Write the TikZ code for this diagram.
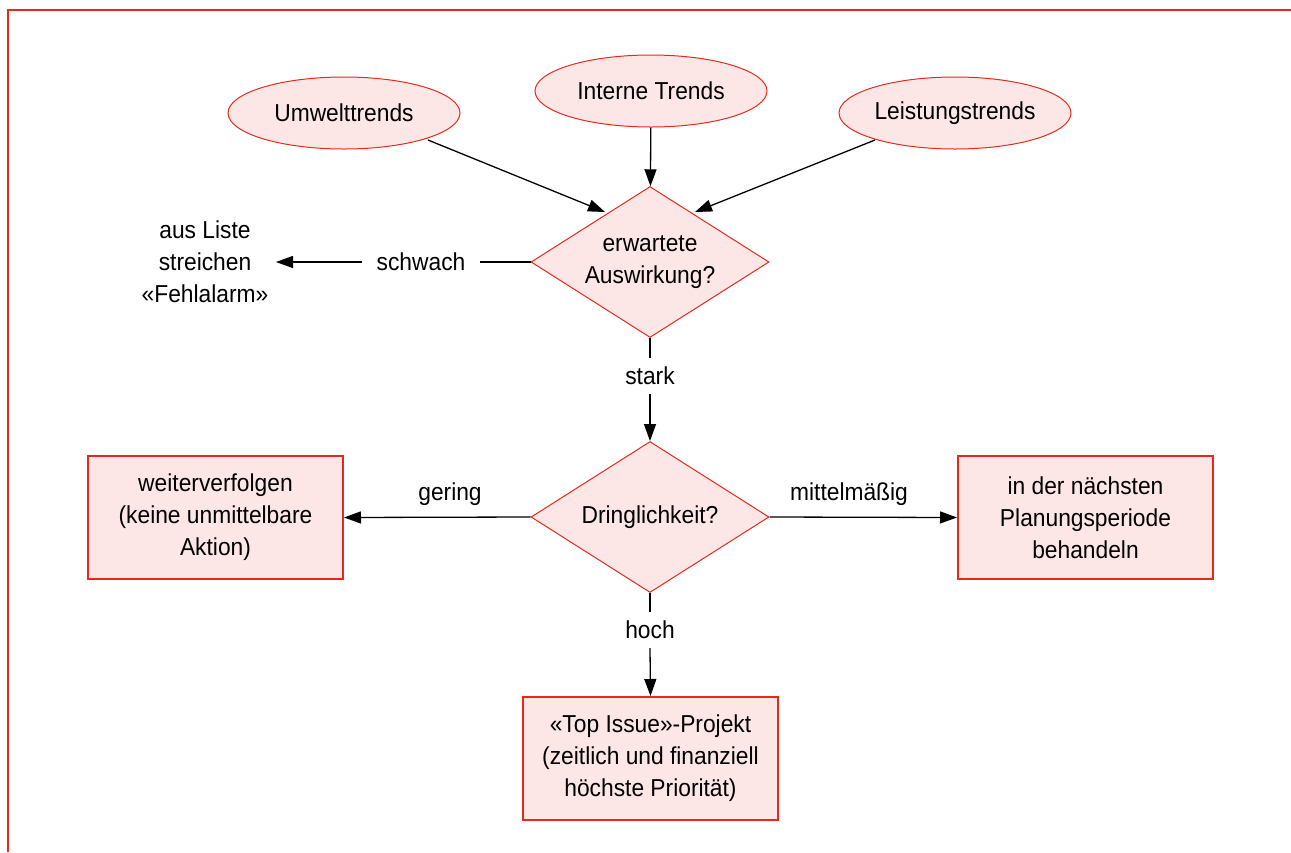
\documentclass[tikz,border=0pt]{standalone}
\usepackage{fontspec}
\setmainfont[FakeStretch=0.93]{Liberation Sans}
\usetikzlibrary{shapes.geometric,arrows.meta}
\definecolor{fr}{HTML}{E52A1C}
\definecolor{pk}{HTML}{FCE6E6}
\tikzset{
  every node/.style={font=\fontsize{24.5}{32}\selectfont, align=center},
  trend/.style={ellipse, draw=fr, fill=pk, line width=1pt, minimum width=232pt, minimum height=72pt, inner sep=0pt},
  decide/.style={diamond, draw=fr, fill=pk, line width=1pt, minimum width=238pt, minimum height=151pt, inner sep=0pt, aspect=1.576},
  result/.style={rectangle, draw=fr, fill=pk, line width=2pt, minimum width=255pt, minimum height=123pt, inner sep=0pt},
  lbl/.style={inner xsep=14pt, inner ysep=9pt},
  conn/.style={draw=black, line width=1.3pt},
  arr/.style={conn, -{Triangle[length=17pt,width=12pt]}}
}
\begin{document}
\begin{tikzpicture}[x=1pt,y=-1pt]
\useasboundingbox (0,0) rectangle (1291,852);
\draw[fr, line width=2.2pt] (8,852) -- (8,10) -- (1291,10);

\node[trend] (umw) at (344,113) {Umwelttrends};
\node[trend] (int) at (651,91) {Interne Trends};
\node[trend] (lei) at (955,113) {Leistungstrends};

\node[decide] (d1) at (650,262) {erwartete\\Auswirkung?};
\node[decide] (d2) at (650,517) {Dringlichkeit?};

\node[result] (weit) at (215.5,517.5) {weiterverfolgen\\(keine unmittelbare\\Aktion)};
\node[result] (naechst) at (1085.5,517.5) {in der nächsten\\Planungsperiode\\behandeln};
\node[result] (top) at (650.5,758.5) {«Top Issue»-Projekt\\(zeitlich und finanziell\\höchste Priorität)};

\node[inner sep=0pt] (fehl) at (205,262) {aus Liste\\streichen\\«Fehlalarm»};
\coordinate (fehlE) at (276,262);

\node[lbl] (schwach) at (421,262) {schwach};
\node[lbl] (stark) at (650,376) {stark};
\node[lbl] (hoch) at (650,630) {hoch};
\node (gering) at (450,494) {gering};
\node (mittel) at (849,494) {mittelmäßig};

\coordinate (umwA) at (428,140);
\coordinate (leiA) at (875,140);
\coordinate (umwT) at (605,212);
\coordinate (leiT) at (695,212);

\draw[arr] (umwA) -- (umwT);
\draw[arr] (int) -- (d1);
\draw[arr] (leiA) -- (leiT);

\draw[conn] (d1.west) -- (schwach.east);
\draw[arr] (schwach.west) -- (fehlE);

\draw[conn] (d1.south) -- (stark.north);
\draw[arr] (stark.south) -- (d2.north);

\draw[arr] (d2.west) -- (weit.east);
\draw[arr] (d2.east) -- (naechst.west);

\draw[conn] (d2.south) -- (hoch.north);
\draw[arr] (hoch.south) -- (top.north);
\end{tikzpicture}
\end{document}
